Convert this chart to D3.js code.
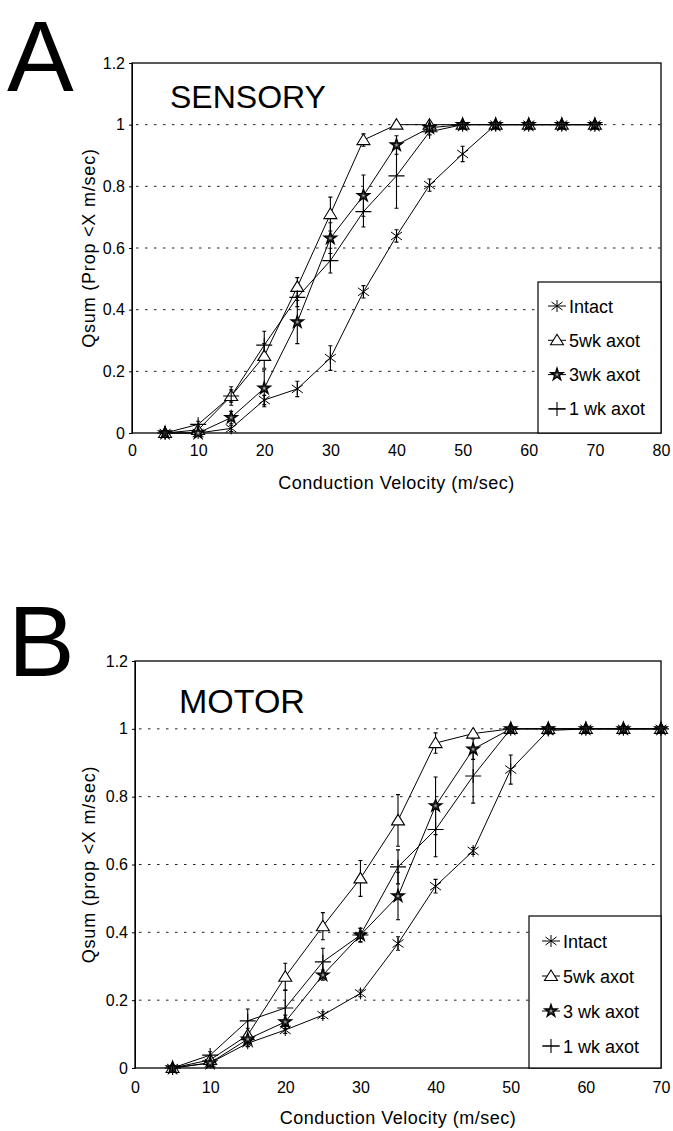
<!DOCTYPE html>
<html>
<head>
<meta charset="utf-8">
<script src="https://cdn.jsdelivr.net/npm/d3@7"></script>
<style>
  body { margin: 0; background: #fff; }
  svg { display: block; font-family: Arial, "Liberation Sans", Helvetica, sans-serif; }
</style>
</head>
<body>
<div id="chart-area"></div>
<script>

// Data (conduction velocity bins, m/sec)
let velocity = [5, 10, 15, 20, 25, 30, 35, 40, 45, 50, 55, 60, 65, 70];
let seriesNames = ["Intact", "5wk axot", "3wk axot", "1 wk axot"];
let seriesNamesMotor = ["Intact", "5wk axot", "3 wk axot", "1 wk axot"];
let yTicks = [0, 0.2, 0.4, 0.6, 0.8, 1, 1.2];
let xTicksSensory = [0, 10, 20, 30, 40, 50, 60, 70, 80];
let xTicksMotor = [0, 10, 20, 30, 40, 50, 60, 70];

// A - sensory
let sensoryIntact = [0, 0, 0.015, 0.107, 0.143, 0.243, 0.458, 0.639, 0.804, 0.905, 1, 1, 1, 1];
let sensory5wk    = [0, 0.01, 0.12, 0.25, 0.474, 0.71, 0.95, 1, 1, 1, 1, 1, 1, 1];
let sensory3wk    = [0, 0, 0.05, 0.145, 0.36, 0.632, 0.77, 0.934, 0.99, 1, 1, 1, 1, 1];
let sensory1wk    = [0, 0.028, 0.12, 0.285, 0.44, 0.559, 0.718, 0.834, 0.977, 1, 1, 1, 1, 1];
let sensoryIntactErr = [0, 0, 0.01, 0.015, 0.025, 0.04, 0.02, 0.02, 0.02, 0.025, 0, 0, 0, 0];
let sensory5wkErr    = [0, 0.005, 0.02, 0.04, 0.03, 0.055, 0.02, 0, 0, 0, 0, 0, 0, 0];
let sensory3wkErr    = [0, 0, 0.02, 0.06, 0.07, 0.05, 0.067, 0.03, 0, 0, 0, 0, 0, 0];
let sensory1wkErr    = [0, 0.01, 0.03, 0.045, 0.03, 0.04, 0.05, 0.105, 0.01, 0, 0, 0, 0, 0];

// B - motor
let motorIntact = [0, 0.015, 0.073, 0.112, 0.156, 0.22, 0.367, 0.536, 0.64, 0.88, 0.995, 1, 1, 1];
let motor5wk    = [0, 0.024, 0.097, 0.269, 0.418, 0.559, 0.73, 0.958, 0.986, 1, 1, 1, 1, 1];
let motor3wk    = [0, 0.015, 0.085, 0.136, 0.274, 0.392, 0.507, 0.773, 0.94, 1, 1, 1, 1, 1];
let motor1wk    = [0, 0.038, 0.139, 0.177, 0.313, 0.392, 0.593, 0.703, 0.861, 1, 1, 1, 1, 1];
let motorIntactErr = [0, 0, 0.01, 0.01, 0.01, 0.01, 0.02, 0.02, 0.01, 0.043, 0.01, 0, 0, 0];
let motor5wkErr    = [0, 0.01, 0.02, 0.04, 0.04, 0.053, 0.076, 0.03, 0.01, 0, 0, 0, 0, 0];
let motor3wkErr    = [0, 0.01, 0.02, 0.02, 0.015, 0.02, 0.07, 0.085, 0.03, 0, 0, 0, 0, 0];
let motor1wkErr    = [0, 0.01, 0.035, 0.053, 0.04, 0.02, 0.05, 0.08, 0.08, 0, 0, 0, 0, 0];

let svg = d3.select("#chart-area").append("svg")
    .attr("width", 673)
    .attr("height", 1131);

// marker shapes, one per series (asterisk, open triangle, filled star, plus)
function drawMarker(g, kind) {
	if (kind === 0) {
		g.append("path")
			.attr("d", "M0,-6L0,6M-5.5,-4L5.5,4M-5.5,4L5.5,-4")
			.attr("stroke", "#000").attr("stroke-width", 1).attr("fill", "none");
	} else if (kind === 1) {
		g.append("path")
			.attr("d", "M0,-6L6.5,4.5L-6.5,4.5Z")
			.attr("stroke", "#000").attr("stroke-width", 1.1).attr("fill", "#fff");
	} else if (kind === 2) {
		g.append("path")
			.attr("d", d3.symbol().type(d3.symbolStar).size(48)())
			.attr("stroke", "#000").attr("stroke-width", 1.3).attr("fill", "#333");
		g.append("circle").attr("r", 1.2).attr("fill", "#999");
	} else {
		g.append("path")
			.attr("d", "M-8,0L8,0M0,-7L0,7")
			.attr("stroke", "#000").attr("stroke-width", 1.1).attr("fill", "none");
	}
}

function drawPanel(p) {
	let x = d3.scaleLinear().domain([0, p.xMax]).range([p.left, p.right]);
	let y = d3.scaleLinear().domain([0, 1.2]).range([p.bottom, p.top]);

	let g = svg.append("g");

	// panel letter
	g.append("text")
		.attr("x", p.letterX).attr("y", p.letterY)
		.attr("font-size", 100)
		.text(p.letter);

	// dotted gridlines
	g.selectAll(".grid")
		.data(yTicks.filter(d => d > 0 && d < 1.2))
		.enter().append("line")
		.attr("x1", p.left + 4).attr("x2", p.right)
		.attr("y1", d => y(d)).attr("y2", d => y(d))
		.attr("stroke", "#222").attr("stroke-width", 1)
		.attr("stroke-dasharray", "2.5,6.5");

	// axes
	let yAxis = d3.axisLeft(y).tickValues(yTicks).tickSize(3).tickPadding(4)
		.tickFormat(d => String(d));
	g.append("g")
		.attr("transform", "translate(" + p.left + ",0)")
		.call(yAxis)
		.call(a => a.selectAll("text").attr("font-size", 16).attr("fill", "#000"));

	let xAxis = d3.axisBottom(x).tickValues(p.xTicks).tickSize(0).tickPadding(p.xPad);
	g.append("g")
		.attr("transform", "translate(0," + p.bottom + ")")
		.call(xAxis)
		.call(a => a.select(".domain").remove())
		.call(a => a.selectAll("text").attr("font-size", 16).attr("fill", "#000"));

	// frame
	g.append("rect")
		.attr("x", p.left).attr("y", p.top)
		.attr("width", p.right - p.left).attr("height", p.bottom - p.top)
		.attr("fill", "none").attr("stroke", "#000").attr("stroke-width", 1.3);

	// titles
	g.append("text")
		.attr("x", (p.left + p.right) / 2).attr("y", p.xTitleY)
		.attr("text-anchor", "middle").attr("font-size", 18)
		.attr("letter-spacing", 0.5)
		.text("Conduction Velocity (m/sec)");
	g.append("text")
		.attr("transform", "translate(" + p.yTitleX + "," + ((p.top + p.bottom) / 2) + ") rotate(-90)")
		.attr("text-anchor", "middle").attr("font-size", 18)
		.attr("letter-spacing", 0.8)
		.text(p.yTitle);
	g.append("text")
		.attr("x", p.nameX).attr("y", p.nameY)
		.attr("font-size", p.nameSize)
		.text(p.name);

	let line = d3.line()
		.x((d, i) => x(velocity[i]))
		.y(d => y(d));

	// lines
	p.series.forEach(s => {
		g.append("path")
			.attr("d", line(s))
			.attr("fill", "none").attr("stroke", "#000").attr("stroke-width", 1);
	});

	// error bars
	p.errors.forEach((e, k) => {
		let vals = p.series[k];
		e.forEach((err, i) => {
			if (err <= 0) return;
			let cx = x(velocity[i]);
			let y1 = y(vals[i] + err), y2 = y(vals[i] - err);
			g.append("path")
				.attr("d", "M" + cx + "," + y1 + "L" + cx + "," + y2 +
					"M" + (cx - 2) + "," + y1 + "L" + (cx + 2) + "," + y1 +
					"M" + (cx - 2) + "," + y2 + "L" + (cx + 2) + "," + y2)
				.attr("stroke", "#000").attr("stroke-width", 1.1).attr("fill", "none");
		});
	});

	// markers
	p.series.forEach((s, k) => {
		s.forEach((v, i) => {
			let m = g.append("g").attr("transform", "translate(" + x(velocity[i]) + "," + y(v) + ")");
			drawMarker(m, k);
		});
	});

	// legend
	let lg = g.append("g");
	lg.append("rect")
		.attr("x", p.legX).attr("y", p.legY)
		.attr("width", p.right - p.legX).attr("height", p.bottom - p.legY)
		.attr("fill", "#fff").attr("stroke", "#000").attr("stroke-width", 1.2);
	p.names.forEach((name, k) => {
		let ry = p.legRow0 + k * p.legStep;
		lg.append("line")
			.attr("x1", p.legSymX - 9).attr("x2", p.legSymX + 9)
			.attr("y1", ry).attr("y2", ry)
			.attr("stroke", "#000").attr("stroke-width", 1);
		drawMarker(lg.append("g").attr("transform", "translate(" + p.legSymX + "," + ry + ")"), k);
		lg.append("text")
			.attr("x", p.legSymX + 12).attr("y", ry + 6.5)
			.attr("font-size", 18)
			.text(name);
	});
}

drawPanel({
	letter: "A", letterX: 7, letterY: 91,
	name: "SENSORY", nameX: 170, nameY: 108, nameSize: 32,
	left: 132, right: 661, top: 63, bottom: 433,
	xMax: 80, xTicks: xTicksSensory, xPad: 12,
	xTitleY: 489, yTitleX: 95,
	yTitle: "Qsum (Prop <X m/sec)",
	series: [sensoryIntact, sensory5wk, sensory3wk, sensory1wk],
	errors: [sensoryIntactErr, sensory5wkErr, sensory3wkErr, sensory1wkErr],
	names: seriesNames,
	legX: 538, legY: 282, legRow0: 306, legStep: 34.3, legSymX: 557
});

drawPanel({
	letter: "B", letterX: 8, letterY: 676,
	name: "MOTOR", nameX: 179, nameY: 713, nameSize: 34,
	left: 135, right: 661, top: 661, bottom: 1068,
	xMax: 70, xTicks: xTicksMotor, xPad: 14,
	xTitleY: 1124, yTitleX: 95,
	yTitle: "Qsum (prop <X m/sec)",
	series: [motorIntact, motor5wk, motor3wk, motor1wk],
	errors: [motorIntactErr, motor5wkErr, motor3wkErr, motor1wkErr],
	names: seriesNamesMotor,
	legX: 529, legY: 916, legRow0: 941, legStep: 35, legSymX: 551
});

</script>
</body>
</html>
